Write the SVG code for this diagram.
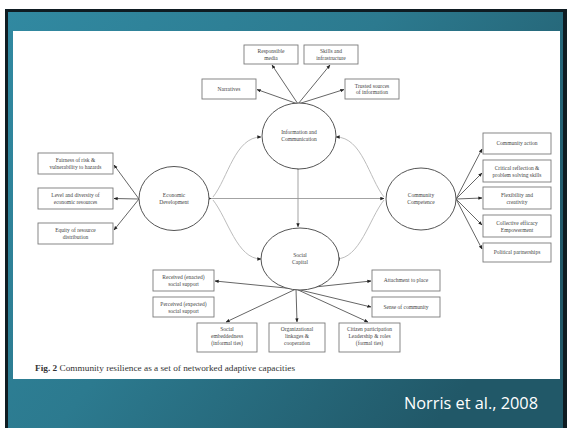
<svg xmlns="http://www.w3.org/2000/svg" width="567" height="428" viewBox="0 0 567 428">
<defs>
<linearGradient id="bg" x1="0" y1="0" x2="1" y2="0.6">
<stop offset="0" stop-color="#3189a1"/>
<stop offset="0.5" stop-color="#2c7a8f"/>
<stop offset="1" stop-color="#215868"/>
</linearGradient>
<marker id="ah" viewBox="0 0 6 6" refX="5.5" refY="3" markerWidth="4" markerHeight="4" orient="auto" markerUnits="userSpaceOnUse">
<path d="M0,0.5 L6,3 L0,5.5 z" fill="#222"/>
</marker>
<style>
.box{fill:#fff;stroke:#7a7a7a;stroke-width:0.9}
.ell{fill:#fff;stroke:#555;stroke-width:1}
.t{font-family:"Liberation Serif",serif;font-size:5.5px;fill:#444;text-anchor:middle}
.sp{fill:none;stroke:#666;stroke-width:1}
.cv{fill:none;stroke:#bdbdbd;stroke-width:1}
.ax{fill:none;stroke:#999;stroke-width:0.9}
</style>
</defs>
<rect x="5" y="9" width="562" height="425" fill="#0f1c22"/>
<rect x="8" y="12" width="555" height="420" fill="url(#bg)"/>
<rect x="13" y="31" width="547" height="348" fill="#fff"/>

<g id="connectors">
<path class="ax" d="M211,198.5 L384,198.5" marker-start="url(#ah)" marker-end="url(#ah)"/>
<path class="ax" d="M298,170 L298,227" marker-start="url(#ah)" marker-end="url(#ah)"/>
<path class="cv" d="M213,197 C228,178 235,137 261,137" marker-end="url(#ah)"/>
<path class="cv" d="M213,200 C228,219 237,259 261,259" marker-end="url(#ah)"/>
<path class="cv" d="M384,197 C369,178 362,137 336,137" marker-end="url(#ah)"/>
<path class="cv" d="M384,200 C369,219 360,259 336,259" marker-end="url(#ah)"/>
<path class="sp" d="M298,104 L272,65" marker-end="url(#ah)"/>
<path class="sp" d="M298,104 L330,65" marker-end="url(#ah)"/>
<path class="sp" d="M298,104 L257,89.5" marker-end="url(#ah)"/>
<path class="sp" d="M298,104 L344,89.5" marker-end="url(#ah)"/>
<path class="sp" d="M139,199 L114,165" marker-end="url(#ah)"/>
<path class="sp" d="M139,199 L114,198.5" marker-end="url(#ah)"/>
<path class="sp" d="M139,199 L114,230" marker-end="url(#ah)"/>
<path class="sp" d="M456,199 L482,149" marker-end="url(#ah)"/>
<path class="sp" d="M456,199 L482,173" marker-end="url(#ah)"/>
<path class="sp" d="M456,199 L482,198" marker-end="url(#ah)"/>
<path class="sp" d="M456,199 L482,225" marker-end="url(#ah)"/>
<path class="sp" d="M456,199 L482,249" marker-end="url(#ah)"/>
<path class="sp" d="M296,289 L215,281" marker-end="url(#ah)"/>
<path class="sp" d="M296,289 L226,322" marker-end="url(#ah)"/>
<path class="sp" d="M296,289 L297,322" marker-end="url(#ah)"/>
<path class="sp" d="M296,289 L368,322" marker-end="url(#ah)"/>
<path class="sp" d="M296,289 L371,281" marker-end="url(#ah)"/>
<path class="sp" d="M296,289 L371,307" marker-end="url(#ah)"/>
</g>

<g id="info"><ellipse class="ell" cx="299" cy="136" rx="37" ry="33"/><text class="t" x="299" y="134">Information and</text><text class="t" x="299" y="141">Communication</text></g>
<g id="econ"><ellipse class="ell" cx="174" cy="198.5" rx="35" ry="32"/><text class="t" x="174" y="197">Economic</text><text class="t" x="174" y="204">Development</text></g>
<g id="comp"><ellipse class="ell" cx="421" cy="199" rx="35" ry="31"/><text class="t" x="421" y="197">Community</text><text class="t" x="421" y="204">Competence</text></g>
<g id="social"><ellipse class="ell" cx="300" cy="259" rx="39" ry="31"/><text class="t" x="300" y="257">Social</text><text class="t" x="300" y="264">Capital</text></g>

<g id="b-media"><rect class="box" x="244" y="45" width="54" height="19"/><text class="t" x="271" y="53">Responsible</text><text class="t" x="271" y="59.5">media</text></g>
<g id="b-skills"><rect class="box" x="304" y="45" width="54" height="19"/><text class="t" x="331" y="53">Skills and</text><text class="t" x="331" y="59.5">infrastructure</text></g>
<g id="b-narr"><rect class="box" x="202" y="79" width="54" height="20"/><text class="t" x="229" y="91">Narratives</text></g>
<g id="b-trust"><rect class="box" x="345" y="79" width="54" height="20"/><text class="t" x="372" y="87.5">Trusted sources</text><text class="t" x="372" y="94">of information</text></g>

<g id="b-fair"><rect class="box" x="38" y="153" width="75" height="21"/><text class="t" x="75.5" y="162">Fairness of risk &amp;</text><text class="t" x="75.5" y="169">vulnerability to hazards</text></g>
<g id="b-level"><rect class="box" x="38" y="188" width="75" height="21"/><text class="t" x="75.5" y="197">Level and diversity of</text><text class="t" x="75.5" y="204">economic resources</text></g>
<g id="b-equity"><rect class="box" x="38" y="223" width="75" height="21"/><text class="t" x="75.5" y="232">Equity of resource</text><text class="t" x="75.5" y="239">distribution</text></g>

<g id="b-action"><rect class="box" x="483" y="133" width="68" height="21"/><text class="t" x="517" y="145">Community action</text></g>
<g id="b-crit"><rect class="box" x="483" y="160" width="68" height="22"/><text class="t" x="517" y="169.5">Critical reflection &amp;</text><text class="t" x="517" y="176.5">problem solving skills</text></g>
<g id="b-flex"><rect class="box" x="483" y="187" width="68" height="22"/><text class="t" x="517" y="196.5">Flexibility and</text><text class="t" x="517" y="203.5">creativity</text></g>
<g id="b-coll"><rect class="box" x="483" y="215" width="68" height="22"/><text class="t" x="517" y="224.5">Collective efficacy</text><text class="t" x="517" y="231.5">Empowerment</text></g>
<g id="b-pol"><rect class="box" x="483" y="243" width="68" height="19"/><text class="t" x="517" y="254">Political partnerships</text></g>

<g id="b-recv"><rect class="box" x="153" y="270" width="61" height="21"/><text class="t" x="183.5" y="279">Received (enacted)</text><text class="t" x="183.5" y="286">social support</text></g>
<g id="b-perc"><rect class="box" x="153" y="297" width="61" height="20"/><text class="t" x="183.5" y="305.5">Perceived (expected)</text><text class="t" x="183.5" y="312.5">social support</text></g>
<g id="b-embed"><rect class="box" x="197" y="323" width="60" height="29"/><text class="t" x="227" y="331">Social</text><text class="t" x="227" y="338">embeddedness</text><text class="t" x="227" y="345">(informal ties)</text></g>
<g id="b-org"><rect class="box" x="269" y="323" width="56" height="29"/><text class="t" x="297" y="331">Organizational</text><text class="t" x="297" y="338">linkages &amp;</text><text class="t" x="297" y="345">cooperation</text></g>
<g id="b-cit"><rect class="box" x="339" y="323" width="61" height="29"/><text class="t" x="369.5" y="331">Citizen participation</text><text class="t" x="369.5" y="338">Leadership &amp; roles</text><text class="t" x="369.5" y="345">(formal ties)</text></g>
<g id="b-attach"><rect class="box" x="372" y="270" width="68" height="21"/><text class="t" x="406" y="282">Attachment to place</text></g>
<g id="b-sense"><rect class="box" x="372" y="297" width="68" height="20"/><text class="t" x="406" y="309">Sense of community</text></g>

<text x="35" y="371" font-family="Liberation Serif,serif" font-size="7.5" fill="#333" textLength="260" lengthAdjust="spacingAndGlyphs"><tspan font-weight="bold">Fig. 2</tspan> Community resilience as a set of networked adaptive capacities</text>
<text x="538" y="409" font-family="Open Sans,sans-serif" font-size="16" fill="#fff" text-anchor="end" textLength="134" lengthAdjust="spacingAndGlyphs">Norris et al., 2008</text>
</svg>
